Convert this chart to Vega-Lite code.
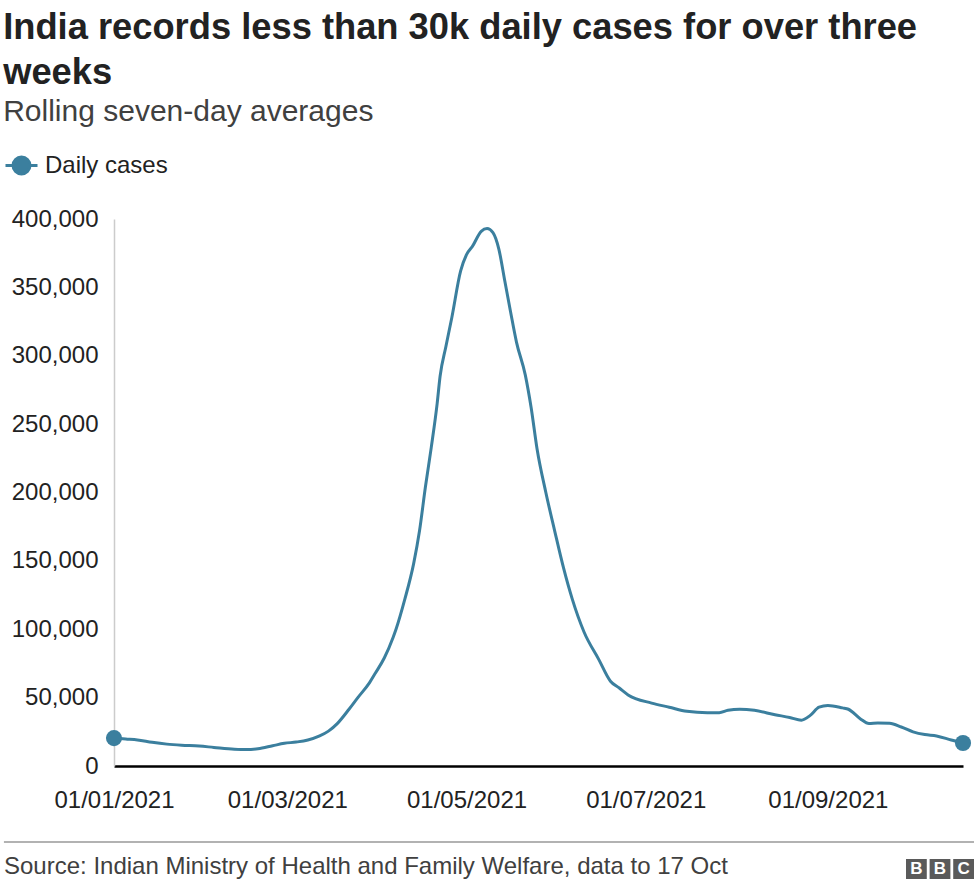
{
  "$schema": "https://vega.github.io/schema/vega-lite/v6.json",
  "background": "white",
  "padding": {"left": 3, "top": 9, "right": 0, "bottom": 0},
  "config": {
    "font": "Liberation Sans",
    "view": {"stroke": null}
  },
  "title": {
    "text": ["India records less than 30k daily cases for over three", "weeks"],
    "subtitle": "Rolling seven-day averages",
    "anchor": "start",
    "frame": "bounds",
    "font": "Liberation Sans",
    "fontSize": 36.3,
    "fontWeight": "bold",
    "color": "#222222",
    "lineHeight": 45,
    "subtitleFont": "Liberation Sans",
    "subtitleFontSize": 30,
    "subtitleColor": "#404040",
    "subtitlePadding": 6,
    "offset": 21
  },
  "resolve": {"scale": {"color": "independent"}, "legend": {"color": "independent"}},
  "spacing": 12,
  "datasets": {
    "cases": [
      {"date": "2021-01-01", "cases": 20400},
      {"date": "2021-01-05", "cases": 19700},
      {"date": "2021-01-09", "cases": 19000},
      {"date": "2021-01-14", "cases": 17300},
      {"date": "2021-01-19", "cases": 16000},
      {"date": "2021-01-24", "cases": 15200},
      {"date": "2021-01-30", "cases": 14600},
      {"date": "2021-02-04", "cases": 13600},
      {"date": "2021-02-11", "cases": 12300},
      {"date": "2021-02-15", "cases": 12000},
      {"date": "2021-02-19", "cases": 12600},
      {"date": "2021-02-24", "cases": 14800},
      {"date": "2021-02-28", "cases": 16600},
      {"date": "2021-03-04", "cases": 17500},
      {"date": "2021-03-08", "cases": 19000},
      {"date": "2021-03-12", "cases": 22000},
      {"date": "2021-03-15", "cases": 25500},
      {"date": "2021-03-18", "cases": 31000},
      {"date": "2021-03-22", "cases": 41500},
      {"date": "2021-03-25", "cases": 50000},
      {"date": "2021-03-29", "cases": 61000},
      {"date": "2021-03-31", "cases": 68000},
      {"date": "2021-04-03", "cases": 79000},
      {"date": "2021-04-06", "cases": 94000},
      {"date": "2021-04-07", "cases": 100000},
      {"date": "2021-04-10", "cases": 122000},
      {"date": "2021-04-13", "cases": 148000},
      {"date": "2021-04-15", "cases": 172000},
      {"date": "2021-04-17", "cases": 204000},
      {"date": "2021-04-19", "cases": 233000},
      {"date": "2021-04-21", "cases": 265000},
      {"date": "2021-04-22", "cases": 285000},
      {"date": "2021-04-24", "cases": 307000},
      {"date": "2021-04-26", "cases": 328000},
      {"date": "2021-04-29", "cases": 362000},
      {"date": "2021-05-01", "cases": 374000},
      {"date": "2021-05-03", "cases": 380000},
      {"date": "2021-05-06", "cases": 391000},
      {"date": "2021-05-08", "cases": 393000},
      {"date": "2021-05-10", "cases": 390000},
      {"date": "2021-05-12", "cases": 378000},
      {"date": "2021-05-14", "cases": 355000},
      {"date": "2021-05-16", "cases": 332000},
      {"date": "2021-05-18", "cases": 310000},
      {"date": "2021-05-21", "cases": 286000},
      {"date": "2021-05-23", "cases": 262000},
      {"date": "2021-05-25", "cases": 232000},
      {"date": "2021-05-28", "cases": 200000},
      {"date": "2021-05-31", "cases": 172000},
      {"date": "2021-06-03", "cases": 145000},
      {"date": "2021-06-06", "cases": 122000},
      {"date": "2021-06-10", "cases": 98000},
      {"date": "2021-06-15", "cases": 78000},
      {"date": "2021-06-19", "cases": 62000},
      {"date": "2021-06-22", "cases": 57000},
      {"date": "2021-06-25", "cases": 52000},
      {"date": "2021-07-03", "cases": 46000},
      {"date": "2021-07-09", "cases": 43000},
      {"date": "2021-07-15", "cases": 40000},
      {"date": "2021-07-22", "cases": 39000},
      {"date": "2021-07-26", "cases": 39000},
      {"date": "2021-07-29", "cases": 40700},
      {"date": "2021-08-02", "cases": 41500},
      {"date": "2021-08-07", "cases": 40700},
      {"date": "2021-08-14", "cases": 37500},
      {"date": "2021-08-19", "cases": 35500},
      {"date": "2021-08-23", "cases": 33500},
      {"date": "2021-08-26", "cases": 37000},
      {"date": "2021-08-29", "cases": 43000},
      {"date": "2021-09-01", "cases": 44300},
      {"date": "2021-09-06", "cases": 42500},
      {"date": "2021-09-08", "cases": 41500},
      {"date": "2021-09-12", "cases": 34600},
      {"date": "2021-09-15", "cases": 31000},
      {"date": "2021-09-18", "cases": 31500},
      {"date": "2021-09-22", "cases": 31200},
      {"date": "2021-09-26", "cases": 28500},
      {"date": "2021-09-30", "cases": 25000},
      {"date": "2021-10-04", "cases": 23000},
      {"date": "2021-10-08", "cases": 22000},
      {"date": "2021-10-13", "cases": 19000},
      {"date": "2021-10-17", "cases": 16800}
    ],
    "logo": [
      {"slot": "1", "letter": "B"},
      {"slot": "2", "letter": "B"},
      {"slot": "3", "letter": "C"}
    ],
    "footer": [
      {"source": "Source: Indian Ministry of Health and Family Welfare, data to 17 Oct"}
    ]
  },
  "vconcat": [
    {
      "width": 849,
      "height": 547,
      "data": {"name": "cases"},
      "encoding": {
        "x": {
          "field": "date",
          "type": "temporal",
          "title": null,
          "scale": {
            "type": "utc",
            "domain": [
              {"year": 2021, "month": 1, "date": 1, "utc": true},
              {"year": 2021, "month": 10, "date": 17, "utc": true}
            ]
          },
          "axis": {
            "values": [
              {"year": 2021, "month": 1, "date": 1, "utc": true},
              {"year": 2021, "month": 3, "date": 1, "utc": true},
              {"year": 2021, "month": 5, "date": 1, "utc": true},
              {"year": 2021, "month": 7, "date": 1, "utc": true},
              {"year": 2021, "month": 9, "date": 1, "utc": true}
            ],
            "labelExpr": "utcFormat(datum.value, '%d/%m/%Y')",
            "domainColor": "#000000",
            "domainWidth": 2.5,
            "ticks": false,
            "grid": false,
            "labelFontSize": 24,
            "labelColor": "#222222",
            "labelPadding": 22,
            "labelFlush": false,
            "labelOverlap": false
          }
        },
        "y": {
          "field": "cases",
          "type": "quantitative",
          "title": null,
          "scale": {"domain": [0, 400000], "nice": false},
          "axis": {
            "values": [0, 50000, 100000, 150000, 200000, 250000, 300000, 350000, 400000],
            "format": ",.0f",
            "domainColor": "#cccccc",
            "domainWidth": 1.5,
            "ticks": false,
            "grid": false,
            "labelFontSize": 24,
            "labelColor": "#222222",
            "labelPadding": 16
          }
        },
        "color": {
          "datum": "Daily cases",
          "scale": {"range": ["#3b7f9e"]},
          "legend": {
            "orient": "none",
            "legendX": -110,
            "legendY": -71,
            "title": null,
            "labelFontSize": 24,
            "labelColor": "#222222",
            "labelOffset": 6,
            "symbolSize": 1024,
            "symbolType": "M-1,0L1,0M0.53,0A0.53,0.53,0,1,1,-0.53,0A0.53,0.53,0,1,1,0.53,0Z",
            "encode": {
              "symbols": {
                "update": {
                  "fill": {"value": "#3b7f9e"},
                  "stroke": {"value": "#3b7f9e"},
                  "strokeWidth": {"value": 3},
                  "opacity": {"value": 1},
                  "shape": {"value": "M-1,0L1,0M0.53,0A0.53,0.53,0,1,1,-0.53,0A0.53,0.53,0,1,1,0.53,0Z"},
                  "size": {"value": 1024}
                }
              }
            }
          }
        }
      },
      "layer": [
        {"mark": {"type": "line", "strokeWidth": 3, "interpolate": "monotone"}},
        {
          "transform": [{"filter": "time(datum.date) == utc(2021,0,1) || time(datum.date) == utc(2021,9,17)"}],
          "mark": {"type": "point", "filled": true, "size": 260, "opacity": 1}
        }
      ]
    },
    {
      "width": 860,
      "height": 18,
      "data": {"name": "footer"},
      "mark": {"type": "rule", "color": "#999999", "strokeWidth": 1.5},
      "encoding": {
        "x": {"datum": -0.128, "scale": {"domain": [0, 1]}, "axis": null},
        "x2": {"datum": 1},
        "y": {"datum": 0, "scale": {"domain": [0, 1]}, "axis": null}
      }
    },
    {
      "spacing": 28,
      "hconcat": [
        {
          "width": 764,
          "height": 20,
          "data": {"name": "footer"},
          "mark": {"type": "text", "align": "left", "baseline": "middle", "fontSize": 24, "color": "#404040", "dx": -110, "dy": -2},
          "encoding": {
            "text": {"field": "source"},
            "x": {"datum": 0, "scale": {"domain": [0, 1]}, "axis": null}
          }
        },
        {
          "width": 68,
          "height": 20,
          "data": {"name": "logo"},
          "encoding": {
            "x": {"field": "slot", "type": "nominal", "scale": {"paddingInner": 0.12, "paddingOuter": 0}, "axis": null}
          },
          "layer": [
            {"mark": {"type": "rect", "color": "#5a5a5a"}},
            {
              "mark": {"type": "text", "color": "white", "fontSize": 17, "fontWeight": "bold", "baseline": "middle"},
              "encoding": {"text": {"field": "letter"}}
            }
          ]
        }
      ]
    }
  ]
}
